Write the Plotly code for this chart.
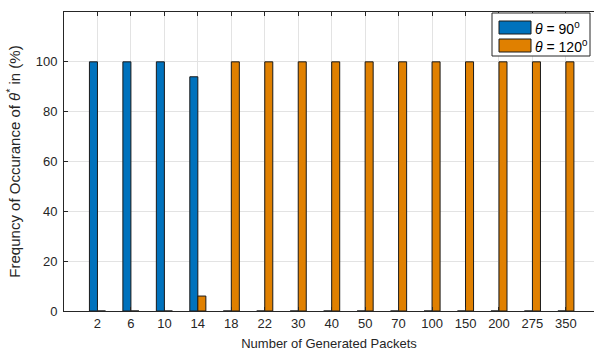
import plotly.graph_objects as go

packets = ["2", "6", "10", "14", "18", "22", "30", "40", "50", "70",
           "100", "150", "200", "275", "350"]
freq_90 = [100, 100, 100, 94, 0, 0, 0, 0, 0, 0, 0, 0, 0, 0, 0]
freq_120 = [0, 0, 0, 6, 100, 100, 100, 100, 100, 100, 100, 100, 100, 100, 100]

series_names = ["<i>θ</i> = 90<sup>0</sup>", "<i>θ</i> = 120<sup>0</sup>"]
series_colors = ["#0072BD", "#E08000"]

xpos = list(range(1, len(packets) + 1))

W, H = 594, 352
ML, MR, MT, MB = 64, 0, 12, 41
PW, PH = W - ML - MR, H - MT - MB


def px_x(p):
    return (p - ML) / PW


def px_y(p):
    return (H - MB - p) / PH


FONT = "Liberation Sans, Arial, Helvetica, sans-serif"
INK = "#262626"

fig = go.Figure()
for vals, name, col in zip([freq_90, freq_120], series_names, series_colors):
    fig.add_trace(go.Bar(
        x=xpos, y=vals, name=name, showlegend=False,
        marker=dict(color=col, line=dict(color="#1a1a1a", width=1)),
    ))

axis_common = dict(
    showline=True, linecolor=INK, linewidth=1,
    ticks="inside", ticklen=4, tickcolor=INK,
    showgrid=True, gridcolor="#e3e3e3", gridwidth=1,
    zeroline=False,
    tickfont=dict(family=FONT, size=13, color=INK),
)

# legend box with wide colour swatches
shapes = [dict(type="rect", xref="paper", yref="paper",
               x0=px_x(492), x1=px_x(590), y0=px_y(56), y1=px_y(13),
               fillcolor="white", line=dict(color=INK, width=1), layer="above")]
annotations = []
for i, (name, col) in enumerate(zip(series_names, series_colors)):
    top = 21 + i * 18
    shapes.append(dict(type="rect", xref="paper", yref="paper",
                       x0=px_x(499), x1=px_x(531), y0=px_y(top + 13), y1=px_y(top),
                       fillcolor=col, line=dict(color="#1a1a1a", width=1), layer="above"))
    annotations.append(dict(xref="paper", yref="paper", x=px_x(533), y=px_y(top + 7),
                            xanchor="left", yanchor="middle", showarrow=False,
                            text=name, font=dict(family=FONT, size=14, color="#000000")))

fig.update_layout(
    width=W, height=H,
    margin=dict(l=ML, r=MR, t=MT, b=MB),
    paper_bgcolor="white", plot_bgcolor="white",
    barmode="group", bargap=0.52, bargroupgap=0,
    font=dict(family=FONT, size=13, color=INK),
    showlegend=False,
    xaxis=dict(
        **axis_common,
        mirror="ticks",
        range=[0, 15.84],
        tickvals=xpos, ticktext=packets,
        title=dict(text="Number of Generated Packets", standoff=9,
                   font=dict(family=FONT, size=13, color=INK)),
    ),
    yaxis=dict(
        **axis_common,
        mirror=False,
        range=[0, 120],
        tickvals=[0, 20, 40, 60, 80, 100],
        ticklabelstandoff=3,
        title=dict(text="Frequncy of Occurance of <i>θ</i><sup>*</sup> in (%)", standoff=11,
                   font=dict(family=FONT, size=15, color=INK)),
    ),
    shapes=shapes,
    annotations=annotations,
)

fig.write_html("out.html")
